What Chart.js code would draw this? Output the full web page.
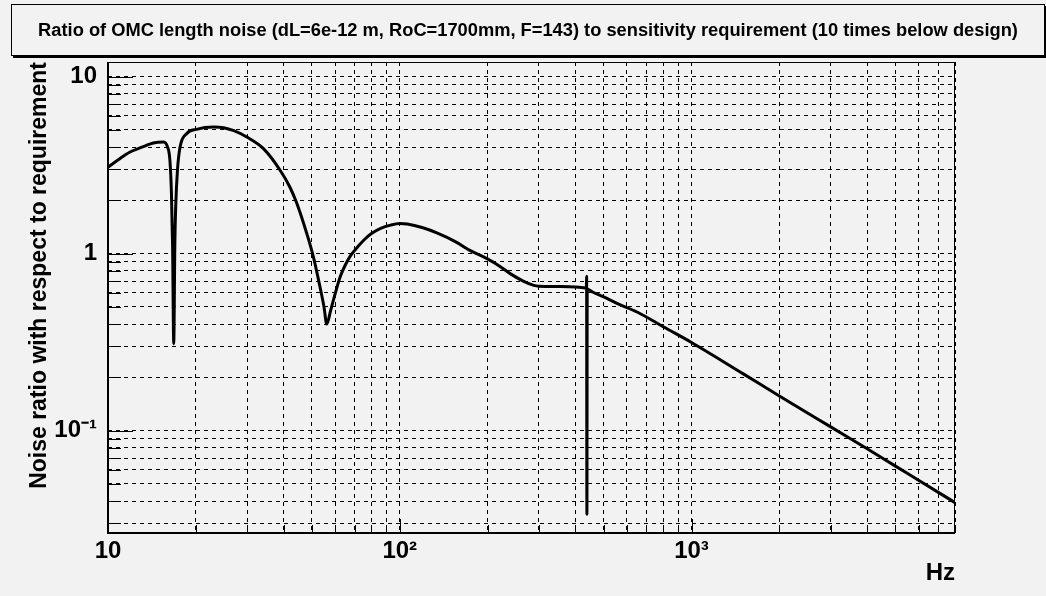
<!DOCTYPE html>
<html>
<head>
<meta charset="utf-8">
<script src="https://cdn.jsdelivr.net/npm/chart.js@4.4.1/dist/chart.umd.min.js"></script>
<style>
  html, body { margin: 0; padding: 0; background: #f2f2f2; }
  #wrap { position: relative; width: 1046px; height: 596px; overflow: hidden; }
  #omcChart { position: absolute; left: 0; top: 0; }
  #titleBox {
    position: absolute; left: 11px; top: 4px; width: 1032px; height: 50px;
    border: 1px solid #000; box-shadow: 2px 2px 0 #000; background: #f2f2f2;
    display: flex; align-items: center; justify-content: center;
    font: bold 18.3px "Liberation Sans", Arial, sans-serif; color: #000;
    white-space: nowrap;
  }
</style>
</head>
<body>
<div id="wrap">
  <canvas id="omcChart" width="1046" height="596"></canvas>
  <div id="titleBox">Ratio of OMC length noise (dL=6e-12 m, RoC=1700mm, F=143) to sensitivity requirement (10 times below design)</div>
</div>
<script>
// Frequency (Hz) and noise / requirement ratio
const freqHz = [
  10, 11, 11.9, 13, 14.3, 15.5, 16.0, 16.3, 16.5, 16.65, 16.8, 16.95, 17.06, 17.3, 17.66,
  18.6, 20.1, 23.0, 24.9, 27, 29.9, 34.1, 38.9, 42, 44.4, 48.0, 50.6, 53.3, 55, 56.2,
  58, 60, 62.5, 65, 68, 72, 76, 80, 86, 93, 100, 106, 120, 134, 155, 174.5,
  199, 220, 239, 265, 288, 300, 350, 400, 430, 436, 437, 438, 439, 460, 500,
  560, 651, 803, 1000, 1500, 2000, 3000, 4000, 5000, 6000, 8000
];
const noiseRatio = [
  3.08, 3.45, 3.75, 3.98, 4.22, 4.27, 4.0, 3.37, 2.18, 1.09, 0.31, 1.15, 1.83, 2.96, 4.0,
  4.76, 5.04, 5.19, 5.15, 4.95, 4.56, 3.92, 2.96, 2.38, 1.92, 1.30, 0.957, 0.648, 0.50, 0.40,
  0.48, 0.59, 0.74, 0.86, 0.98, 1.10, 1.21, 1.30, 1.39, 1.45, 1.48, 1.47, 1.40, 1.31, 1.17, 1.04,
  0.937, 0.85, 0.771, 0.70, 0.662, 0.655, 0.652, 0.648, 0.64, 0.638, 0.744, 0.0337, 0.63, 0.605, 0.569,
  0.52, 0.468, 0.385, 0.315, 0.21, 0.157, 0.105, 0.079, 0.063, 0.0525, 0.0392
];

// Axis ranges
const xRange = [10, 8000];
const yRange = [0.0264, 12.1];

// Grid / tick positions (log axes, every 1..9 x decade)
const xGridValues = [10, 20, 30, 40, 50, 60, 70, 80, 90, 100, 200, 300, 400, 500, 600, 700, 800, 900,
  1000, 2000, 3000, 4000, 5000, 6000, 7000, 8000];
const yGridValues = [0.03, 0.04, 0.05, 0.06, 0.07, 0.08, 0.09, 0.1, 0.2, 0.3, 0.4, 0.5, 0.6, 0.7, 0.8, 0.9,
  1, 2, 3, 4, 5, 6, 7, 8, 9, 10];

// Labelled (major) ticks
const xTickValues = [10, 100, 1000];
const xTickLabels = ['10', '10\u00B2', '10\u00B3'];
const yTickValues = [0.1, 1, 10];
const yTickLabels = ['10\u207B\u00B9', '1', '10'];

const labelFont = { family: '"Liberation Sans", Arial, sans-serif', size: 24, weight: 'bold' };

// ROOT-like frame with inward tick marks
const frameTicks = {
  id: 'frameTicks',
  beforeDatasetsDraw(chart) {
    const { ctx, chartArea: a, scales: { x, y } } = chart;
    ctx.save();
    ctx.strokeStyle = '#000';
    ctx.lineWidth = 1;
    ctx.setLineDash([]);
    ctx.beginPath();
    yGridValues.forEach(v => {
      const py = Math.round(y.getPixelForValue(v)) + 0.5;
      const len = yTickValues.includes(v) ? 25 : 13;
      ctx.moveTo(a.left, py); ctx.lineTo(a.left + len, py);
    });
    xGridValues.forEach(v => {
      const px = Math.round(x.getPixelForValue(v)) + 0.5;
      const len = xTickValues.includes(v) ? 14 : 8;
      ctx.moveTo(px, a.bottom); ctx.lineTo(px, a.bottom - len);
    });
    ctx.stroke();
    ctx.strokeRect(a.left + 0.5, a.top + 0.5, a.right - a.left - 1, a.bottom - a.top);
    ctx.lineWidth = 2;
    ctx.beginPath();
    ctx.moveTo(a.left, a.top); ctx.lineTo(a.left, a.bottom);
    ctx.lineTo(a.right, a.bottom);
    ctx.stroke();
    ctx.restore();
  }
};

function initChart() {
  const canvas = document.getElementById('omcChart');
  if (!canvas || typeof Chart === 'undefined') return;

  new Chart(canvas.getContext('2d'), {
    type: 'line',
    data: {
      datasets: [{
        label: 'noise ratio',
        data: freqHz.map((f, i) => ({ x: f, y: noiseRatio[i] })),
        borderColor: '#000',
        borderWidth: 3,
        pointRadius: 0,
        fill: false,
        cubicInterpolationMode: 'monotone',
      }]
    },
    plugins: [frameTicks],
    options: {
      responsive: false,
      animation: false,
      devicePixelRatio: 1,
      layout: { padding: { left: 0, top: 62, right: 91, bottom: 0 } },
      plugins: { legend: { display: false }, tooltip: { enabled: false } },
      scales: {
        x: {
          type: 'logarithmic',
          bounds: 'data',
          min: xRange[0],
          max: xRange[1],
          afterFit(scale) { scale.height = 63; },
          afterBuildTicks(scale) { scale.ticks = xGridValues.map(v => ({ value: v })); },
          grid: { color: '#000', lineWidth: 1, drawTicks: false },
          border: { display: false, dash: [4, 4] },
          ticks: {
            autoSkip: false,
            maxRotation: 0,
            padding: 4,
            color: '#000',
            font: labelFont,
            callback(val) {
              const k = xTickValues.indexOf(val);
              return k >= 0 ? xTickLabels[k] : '';
            }
          },
          title: {
            display: true,
            text: 'Hz',
            align: 'end',
            color: '#000',
            font: labelFont,
            padding: { top: 0, bottom: 8 }
          }
        },
        y: {
          type: 'logarithmic',
          bounds: 'data',
          min: yRange[0],
          max: yRange[1],
          afterFit(scale) { scale.width = 108; },
          afterBuildTicks(scale) { scale.ticks = yGridValues.map(v => ({ value: v })); },
          grid: { color: '#000', lineWidth: 1, drawTicks: false },
          border: { display: false, dash: [4, 4] },
          ticks: {
            autoSkip: false,
            padding: 11,
            color: '#000',
            font: labelFont,
            callback(val) {
              const k = yTickValues.findIndex(t => Math.abs(t - val) < 1e-9);
              return k >= 0 ? yTickLabels[k] : '';
            }
          },
          title: {
            display: true,
            text: 'Noise ratio with respect to requirement',
            align: 'end',
            color: '#000',
            font: { family: '"Liberation Sans", Arial, sans-serif', size: 23, weight: 'bold' },
            padding: { top: 26, bottom: 0 }
          }
        }
      }
    }
  });
}

if (document.readyState === 'loading') {
  document.addEventListener('DOMContentLoaded', initChart);
} else {
  initChart();
}
</script>
</body>
</html>
